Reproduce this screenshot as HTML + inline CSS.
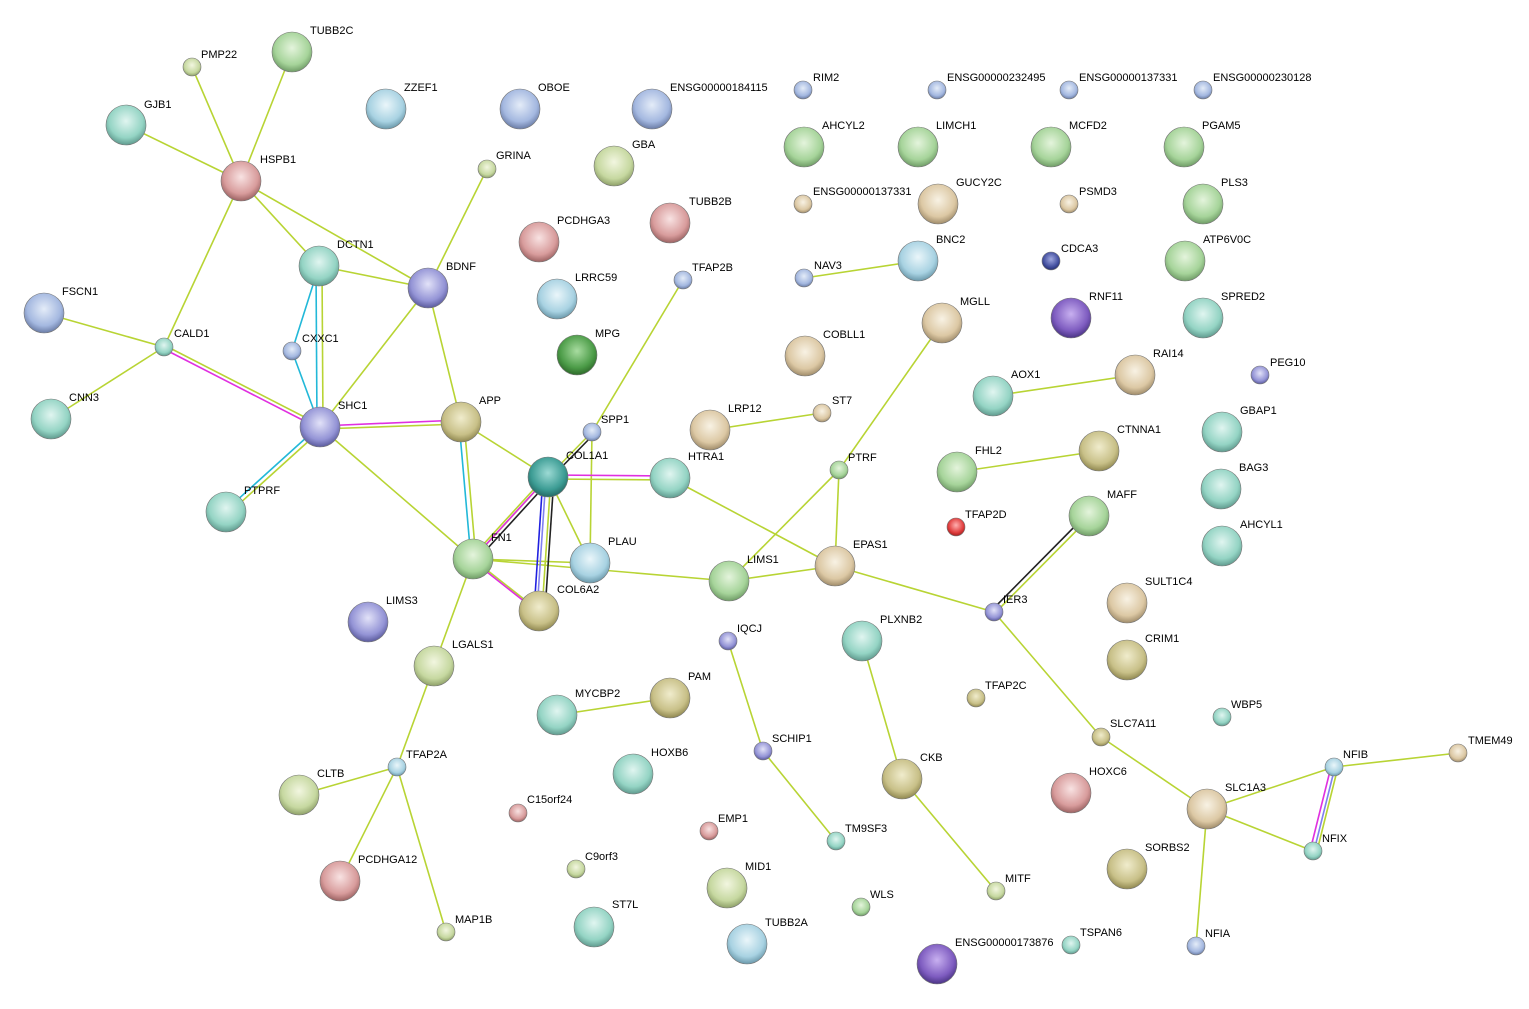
<!DOCTYPE html>
<html><head><meta charset="utf-8"><style>
html,body{margin:0;padding:0;background:#fff;}
svg{display:block;}
text{font-family:"Liberation Sans",sans-serif;font-size:11px;fill:#000;}
</style></head><body>
<svg width="1529" height="1009" viewBox="0 0 1529 1009" xmlns="http://www.w3.org/2000/svg">
<defs>
<radialGradient id="g" cx="50%" cy="40%" r="60%"><stop offset="0" stop-color="#e4f4dc"/><stop offset="0.7" stop-color="#a6d49a"/><stop offset="1" stop-color="#6f9c66"/></radialGradient>
<radialGradient id="t" cx="50%" cy="40%" r="60%"><stop offset="0" stop-color="#e0f5f0"/><stop offset="0.7" stop-color="#94d4c4"/><stop offset="1" stop-color="#5f9a8e"/></radialGradient>
<radialGradient id="b" cx="50%" cy="40%" r="60%"><stop offset="0" stop-color="#e4ecf8"/><stop offset="0.7" stop-color="#a4b8e0"/><stop offset="1" stop-color="#6a7ca6"/></radialGradient>
<radialGradient id="lb" cx="50%" cy="40%" r="60%"><stop offset="0" stop-color="#eaf6fa"/><stop offset="0.7" stop-color="#a8d2e2"/><stop offset="1" stop-color="#6a98aa"/></radialGradient>
<radialGradient id="p" cx="50%" cy="40%" r="60%"><stop offset="0" stop-color="#e2e2f8"/><stop offset="0.7" stop-color="#9494d6"/><stop offset="1" stop-color="#5a5a9c"/></radialGradient>
<radialGradient id="r" cx="50%" cy="40%" r="60%"><stop offset="0" stop-color="#f8e2e2"/><stop offset="0.7" stop-color="#d89c9c"/><stop offset="1" stop-color="#9c6262"/></radialGradient>
<radialGradient id="y" cx="50%" cy="40%" r="60%"><stop offset="0" stop-color="#f8f2e4"/><stop offset="0.7" stop-color="#dcc8a4"/><stop offset="1" stop-color="#a08c6a"/></radialGradient>
<radialGradient id="o" cx="50%" cy="40%" r="60%"><stop offset="0" stop-color="#f2f6e0"/><stop offset="0.7" stop-color="#c6d8a0"/><stop offset="1" stop-color="#8ea068"/></radialGradient>
<radialGradient id="ol" cx="50%" cy="40%" r="60%"><stop offset="0" stop-color="#f0eccc"/><stop offset="0.7" stop-color="#c8c088"/><stop offset="1" stop-color="#908850"/></radialGradient>
<radialGradient id="dg" cx="50%" cy="40%" r="60%"><stop offset="0" stop-color="#a8dca0"/><stop offset="0.7" stop-color="#4c9c48"/><stop offset="1" stop-color="#2e6a2a"/></radialGradient>
<radialGradient id="dt" cx="50%" cy="40%" r="60%"><stop offset="0" stop-color="#9cdad4"/><stop offset="0.7" stop-color="#3c9c94"/><stop offset="1" stop-color="#246a64"/></radialGradient>
<radialGradient id="rd" cx="50%" cy="40%" r="60%"><stop offset="0" stop-color="#ffb0b0"/><stop offset="0.7" stop-color="#e03c3c"/><stop offset="1" stop-color="#a02020"/></radialGradient>
<radialGradient id="db" cx="50%" cy="40%" r="60%"><stop offset="0" stop-color="#a0a8e0"/><stop offset="0.7" stop-color="#4450a0"/><stop offset="1" stop-color="#262e70"/></radialGradient>
<radialGradient id="dp" cx="50%" cy="40%" r="60%"><stop offset="0" stop-color="#c8b0f0"/><stop offset="0.7" stop-color="#7e5cc0"/><stop offset="1" stop-color="#4a3484"/></radialGradient>
</defs>

<g stroke="#b8d434" stroke-width="1.6" fill="none">
<line x1="192" y1="67" x2="241" y2="181"/>
<line x1="292" y1="52" x2="241" y2="181"/>
<line x1="126" y1="125" x2="241" y2="181"/>
<line x1="241" y1="181" x2="319" y2="266"/>
<line x1="241" y1="181" x2="428" y2="288"/>
<line x1="241" y1="181" x2="164" y2="347"/>
<line x1="319" y1="266" x2="428" y2="288"/>
<line x1="322" y1="266" x2="323" y2="427"/>
<line x1="44" y1="313" x2="164" y2="347"/>
<line x1="51" y1="419" x2="164" y2="347"/>
<line x1="164" y1="345" x2="320" y2="425"/>
<line x1="428" y1="288" x2="320" y2="427"/>
<line x1="428" y1="288" x2="461" y2="422"/>
<line x1="428" y1="288" x2="487" y2="169"/>
<line x1="320" y1="429" x2="461" y2="424"/>
<line x1="322" y1="429" x2="228" y2="514"/>
<line x1="320" y1="427" x2="473" y2="559"/>
<line x1="464" y1="422" x2="476" y2="559"/>
<line x1="461" y1="422" x2="548" y2="477"/>
<line x1="548" y1="477" x2="473" y2="559"/>
<line x1="545" y1="477" x2="470" y2="559"/>
<line x1="551" y1="477" x2="542" y2="611"/>
<line x1="548" y1="477" x2="590" y2="563"/>
<line x1="548" y1="479" x2="670" y2="480"/>
<line x1="548" y1="477" x2="592" y2="432"/>
<line x1="592" y1="432" x2="683" y2="280"/>
<line x1="592" y1="432" x2="590" y2="563"/>
<line x1="473" y1="559" x2="590" y2="563"/>
<line x1="473" y1="559" x2="729" y2="581"/>
<line x1="473" y1="559" x2="539" y2="611"/>
<line x1="670" y1="478" x2="835" y2="566"/>
<line x1="729" y1="581" x2="835" y2="566"/>
<line x1="729" y1="581" x2="839" y2="470"/>
<line x1="839" y1="470" x2="835" y2="566"/>
<line x1="839" y1="470" x2="942" y2="323"/>
<line x1="835" y1="566" x2="994" y2="612"/>
<line x1="996" y1="612" x2="1091" y2="516"/>
<line x1="994" y1="612" x2="1101" y2="737"/>
<line x1="1101" y1="737" x2="1207" y2="809"/>
<line x1="1207" y1="809" x2="1334" y2="767"/>
<line x1="1207" y1="809" x2="1313" y2="851"/>
<line x1="1207" y1="809" x2="1196" y2="946"/>
<line x1="1338" y1="767" x2="1317" y2="851"/>
<line x1="1334" y1="767" x2="1458" y2="753"/>
<line x1="473" y1="559" x2="434" y2="666"/>
<line x1="434" y1="666" x2="397" y2="767"/>
<line x1="397" y1="767" x2="299" y2="795"/>
<line x1="397" y1="767" x2="340" y2="881"/>
<line x1="397" y1="767" x2="446" y2="932"/>
<line x1="557" y1="715" x2="670" y2="698"/>
<line x1="728" y1="641" x2="763" y2="751"/>
<line x1="763" y1="751" x2="836" y2="841"/>
<line x1="862" y1="641" x2="902" y2="779"/>
<line x1="902" y1="779" x2="996" y2="891"/>
<line x1="710" y1="430" x2="822" y2="413"/>
<line x1="804" y1="278" x2="918" y2="261"/>
<line x1="993" y1="396" x2="1135" y2="375"/>
<line x1="957" y1="472" x2="1099" y2="451"/>
</g>
<g stroke-width="1.6" fill="none">
<line x1="316" y1="266" x2="317" y2="427" stroke="#22b8d8"/>
<line x1="319" y1="266" x2="292" y2="351" stroke="#22b8d8"/>
<line x1="292" y1="351" x2="320" y2="427" stroke="#22b8d8"/>
<line x1="164" y1="349" x2="320" y2="429" stroke="#e030e0"/>
<line x1="320" y1="426" x2="461" y2="420" stroke="#e030e0"/>
<line x1="318" y1="427" x2="224" y2="512" stroke="#22b8d8"/>
<line x1="459" y1="422" x2="471" y2="559" stroke="#22b8d8"/>
<line x1="551" y1="479" x2="476" y2="561" stroke="#222"/>
<line x1="546" y1="479" x2="471" y2="561" stroke="#e030e0"/>
<line x1="543" y1="477" x2="534" y2="611" stroke="#2020e0"/>
<line x1="546" y1="477" x2="537" y2="611" stroke="#8080f0"/>
<line x1="554" y1="477" x2="545" y2="611" stroke="#222"/>
<line x1="548" y1="475" x2="670" y2="476" stroke="#e030e0"/>
<line x1="550" y1="479" x2="594" y2="434" stroke="#222"/>
<line x1="473" y1="561" x2="539" y2="613" stroke="#e030e0"/>
<line x1="992" y1="610" x2="1087" y2="514" stroke="#222"/>
<line x1="1331" y1="767" x2="1310" y2="851" stroke="#e030e0"/>
<line x1="1335" y1="767" x2="1314" y2="851" stroke="#8080f0"/>
</g>

<g stroke="#777" stroke-width="0.6">
<circle cx="292" cy="52" r="20" fill="url(#g)"/>
<circle cx="126" cy="125" r="20" fill="url(#t)"/>
<circle cx="241" cy="181" r="20" fill="url(#r)"/>
<circle cx="386" cy="109" r="20" fill="url(#lb)"/>
<circle cx="520" cy="109" r="20" fill="url(#b)"/>
<circle cx="652" cy="109" r="20" fill="url(#b)"/>
<circle cx="614" cy="166" r="20" fill="url(#o)"/>
<circle cx="804" cy="147" r="20" fill="url(#g)"/>
<circle cx="918" cy="147" r="20" fill="url(#g)"/>
<circle cx="1051" cy="147" r="20" fill="url(#g)"/>
<circle cx="1184" cy="147" r="20" fill="url(#g)"/>
<circle cx="670" cy="223" r="20" fill="url(#r)"/>
<circle cx="539" cy="242" r="20" fill="url(#r)"/>
<circle cx="938" cy="204" r="20" fill="url(#y)"/>
<circle cx="1203" cy="204" r="20" fill="url(#g)"/>
<circle cx="319" cy="266" r="20" fill="url(#t)"/>
<circle cx="428" cy="288" r="20" fill="url(#p)"/>
<circle cx="557" cy="299" r="20" fill="url(#lb)"/>
<circle cx="918" cy="261" r="20" fill="url(#lb)"/>
<circle cx="1185" cy="261" r="20" fill="url(#g)"/>
<circle cx="44" cy="313" r="20" fill="url(#b)"/>
<circle cx="942" cy="323" r="20" fill="url(#y)"/>
<circle cx="1071" cy="318" r="20" fill="url(#dp)"/>
<circle cx="1203" cy="318" r="20" fill="url(#t)"/>
<circle cx="577" cy="355" r="20" fill="url(#dg)"/>
<circle cx="805" cy="356" r="20" fill="url(#y)"/>
<circle cx="1135" cy="375" r="20" fill="url(#y)"/>
<circle cx="993" cy="396" r="20" fill="url(#t)"/>
<circle cx="51" cy="419" r="20" fill="url(#t)"/>
<circle cx="320" cy="427" r="20" fill="url(#p)"/>
<circle cx="461" cy="422" r="20" fill="url(#ol)"/>
<circle cx="710" cy="430" r="20" fill="url(#y)"/>
<circle cx="1222" cy="432" r="20" fill="url(#t)"/>
<circle cx="1099" cy="451" r="20" fill="url(#ol)"/>
<circle cx="957" cy="472" r="20" fill="url(#g)"/>
<circle cx="670" cy="478" r="20" fill="url(#t)"/>
<circle cx="548" cy="477" r="20" fill="url(#dt)"/>
<circle cx="1221" cy="489" r="20" fill="url(#t)"/>
<circle cx="226" cy="512" r="20" fill="url(#t)"/>
<circle cx="1089" cy="516" r="20" fill="url(#g)"/>
<circle cx="1222" cy="546" r="20" fill="url(#t)"/>
<circle cx="473" cy="559" r="20" fill="url(#g)"/>
<circle cx="590" cy="563" r="20" fill="url(#lb)"/>
<circle cx="835" cy="566" r="20" fill="url(#y)"/>
<circle cx="729" cy="581" r="20" fill="url(#g)"/>
<circle cx="539" cy="611" r="20" fill="url(#ol)"/>
<circle cx="1127" cy="603" r="20" fill="url(#y)"/>
<circle cx="368" cy="622" r="20" fill="url(#p)"/>
<circle cx="862" cy="641" r="20" fill="url(#t)"/>
<circle cx="1127" cy="660" r="20" fill="url(#ol)"/>
<circle cx="434" cy="666" r="20" fill="url(#o)"/>
<circle cx="670" cy="698" r="20" fill="url(#ol)"/>
<circle cx="557" cy="715" r="20" fill="url(#t)"/>
<circle cx="633" cy="774" r="20" fill="url(#t)"/>
<circle cx="902" cy="779" r="20" fill="url(#ol)"/>
<circle cx="299" cy="795" r="20" fill="url(#o)"/>
<circle cx="1071" cy="793" r="20" fill="url(#r)"/>
<circle cx="1207" cy="809" r="20" fill="url(#y)"/>
<circle cx="1127" cy="869" r="20" fill="url(#ol)"/>
<circle cx="340" cy="881" r="20" fill="url(#r)"/>
<circle cx="727" cy="888" r="20" fill="url(#o)"/>
<circle cx="594" cy="927" r="20" fill="url(#t)"/>
<circle cx="747" cy="944" r="20" fill="url(#lb)"/>
<circle cx="937" cy="964" r="20" fill="url(#dp)"/>

<circle cx="192" cy="67" r="9" fill="url(#o)"/>
<circle cx="487" cy="169" r="9" fill="url(#o)"/>
<circle cx="803" cy="90" r="9" fill="url(#b)"/>
<circle cx="937" cy="90" r="9" fill="url(#b)"/>
<circle cx="1069" cy="90" r="9" fill="url(#b)"/>
<circle cx="1203" cy="90" r="9" fill="url(#b)"/>
<circle cx="803" cy="204" r="9" fill="url(#y)"/>
<circle cx="1069" cy="204" r="9" fill="url(#y)"/>
<circle cx="1051" cy="261" r="9" fill="url(#db)"/>
<circle cx="804" cy="278" r="9" fill="url(#b)"/>
<circle cx="683" cy="280" r="9" fill="url(#b)"/>
<circle cx="164" cy="347" r="9" fill="url(#t)"/>
<circle cx="292" cy="351" r="9" fill="url(#b)"/>
<circle cx="1260" cy="375" r="9" fill="url(#p)"/>
<circle cx="822" cy="413" r="9" fill="url(#y)"/>
<circle cx="592" cy="432" r="9" fill="url(#b)"/>
<circle cx="839" cy="470" r="9" fill="url(#g)"/>
<circle cx="956" cy="527" r="9" fill="url(#rd)"/>
<circle cx="994" cy="612" r="9" fill="url(#p)"/>
<circle cx="728" cy="641" r="9" fill="url(#p)"/>
<circle cx="976" cy="698" r="9" fill="url(#ol)"/>
<circle cx="1222" cy="717" r="9" fill="url(#t)"/>
<circle cx="1101" cy="737" r="9" fill="url(#ol)"/>
<circle cx="763" cy="751" r="9" fill="url(#p)"/>
<circle cx="1458" cy="753" r="9" fill="url(#y)"/>
<circle cx="397" cy="767" r="9" fill="url(#lb)"/>
<circle cx="1334" cy="767" r="9" fill="url(#lb)"/>
<circle cx="518" cy="813" r="9" fill="url(#r)"/>
<circle cx="709" cy="831" r="9" fill="url(#r)"/>
<circle cx="836" cy="841" r="9" fill="url(#t)"/>
<circle cx="1313" cy="851" r="9" fill="url(#t)"/>
<circle cx="576" cy="869" r="9" fill="url(#o)"/>
<circle cx="996" cy="891" r="9" fill="url(#o)"/>
<circle cx="861" cy="907" r="9" fill="url(#g)"/>
<circle cx="446" cy="932" r="9" fill="url(#o)"/>
<circle cx="1071" cy="945" r="9" fill="url(#t)"/>
<circle cx="1196" cy="946" r="9" fill="url(#b)"/>
</g>

<g>
<text x="310" y="34">TUBB2C</text>
<text x="144" y="108">GJB1</text>
<text x="260" y="163">HSPB1</text>
<text x="404" y="91">ZZEF1</text>
<text x="538" y="91">OBOE</text>
<text x="670" y="91">ENSG00000184115</text>
<text x="632" y="148">GBA</text>
<text x="822" y="129">AHCYL2</text>
<text x="936" y="129">LIMCH1</text>
<text x="1069" y="129">MCFD2</text>
<text x="1202" y="129">PGAM5</text>
<text x="689" y="205">TUBB2B</text>
<text x="557" y="224">PCDHGA3</text>
<text x="956" y="186">GUCY2C</text>
<text x="1221" y="186">PLS3</text>
<text x="337" y="248">DCTN1</text>
<text x="446" y="270">BDNF</text>
<text x="575" y="281">LRRC59</text>
<text x="936" y="243">BNC2</text>
<text x="1203" y="243">ATP6V0C</text>
<text x="62" y="295">FSCN1</text>
<text x="960" y="305">MGLL</text>
<text x="1089" y="300">RNF11</text>
<text x="1221" y="300">SPRED2</text>
<text x="595" y="337">MPG</text>
<text x="823" y="338">COBLL1</text>
<text x="1153" y="357">RAI14</text>
<text x="1011" y="378">AOX1</text>
<text x="69" y="401">CNN3</text>
<text x="338" y="409">SHC1</text>
<text x="479" y="404">APP</text>
<text x="728" y="412">LRP12</text>
<text x="1240" y="414">GBAP1</text>
<text x="1117" y="433">CTNNA1</text>
<text x="975" y="454">FHL2</text>
<text x="688" y="460">HTRA1</text>
<text x="566" y="459">COL1A1</text>
<text x="1239" y="471">BAG3</text>
<text x="244" y="494">PTPRF</text>
<text x="1107" y="498">MAFF</text>
<text x="1240" y="528">AHCYL1</text>
<text x="491" y="541">FN1</text>
<text x="608" y="545">PLAU</text>
<text x="853" y="548">EPAS1</text>
<text x="747" y="563">LIMS1</text>
<text x="557" y="593">COL6A2</text>
<text x="1145" y="585">SULT1C4</text>
<text x="386" y="604">LIMS3</text>
<text x="880" y="623">PLXNB2</text>
<text x="1145" y="642">CRIM1</text>
<text x="452" y="648">LGALS1</text>
<text x="688" y="680">PAM</text>
<text x="575" y="697">MYCBP2</text>
<text x="651" y="756">HOXB6</text>
<text x="920" y="761">CKB</text>
<text x="317" y="777">CLTB</text>
<text x="1089" y="775">HOXC6</text>
<text x="1225" y="791">SLC1A3</text>
<text x="1145" y="851">SORBS2</text>
<text x="358" y="863">PCDHGA12</text>
<text x="745" y="870">MID1</text>
<text x="612" y="908">ST7L</text>
<text x="765" y="926">TUBB2A</text>
<text x="955" y="946">ENSG00000173876</text>

<text x="201" y="58">PMP22</text>
<text x="496" y="159">GRINA</text>
<text x="813" y="81">RIM2</text>
<text x="947" y="81">ENSG00000232495</text>
<text x="1079" y="81">ENSG00000137331</text>
<text x="1213" y="81">ENSG00000230128</text>
<text x="813" y="195">ENSG00000137331</text>
<text x="1079" y="195">PSMD3</text>
<text x="1061" y="252">CDCA3</text>
<text x="814" y="269">NAV3</text>
<text x="692" y="271">TFAP2B</text>
<text x="174" y="337">CALD1</text>
<text x="302" y="342">CXXC1</text>
<text x="1270" y="366">PEG10</text>
<text x="832" y="404">ST7</text>
<text x="601" y="423">SPP1</text>
<text x="848" y="461">PTRF</text>
<text x="965" y="518">TFAP2D</text>
<text x="1003" y="603">IER3</text>
<text x="737" y="632">IQCJ</text>
<text x="985" y="689">TFAP2C</text>
<text x="1231" y="708">WBP5</text>
<text x="1110" y="727">SLC7A11</text>
<text x="772" y="742">SCHIP1</text>
<text x="1468" y="744">TMEM49</text>
<text x="406" y="758">TFAP2A</text>
<text x="1343" y="758">NFIB</text>
<text x="527" y="803">C15orf24</text>
<text x="718" y="822">EMP1</text>
<text x="845" y="832">TM9SF3</text>
<text x="1322" y="842">NFIX</text>
<text x="585" y="860">C9orf3</text>
<text x="1005" y="882">MITF</text>
<text x="870" y="898">WLS</text>
<text x="455" y="923">MAP1B</text>
<text x="1080" y="936">TSPAN6</text>
<text x="1205" y="937">NFIA</text>
</g>
</svg>
</body></html>
